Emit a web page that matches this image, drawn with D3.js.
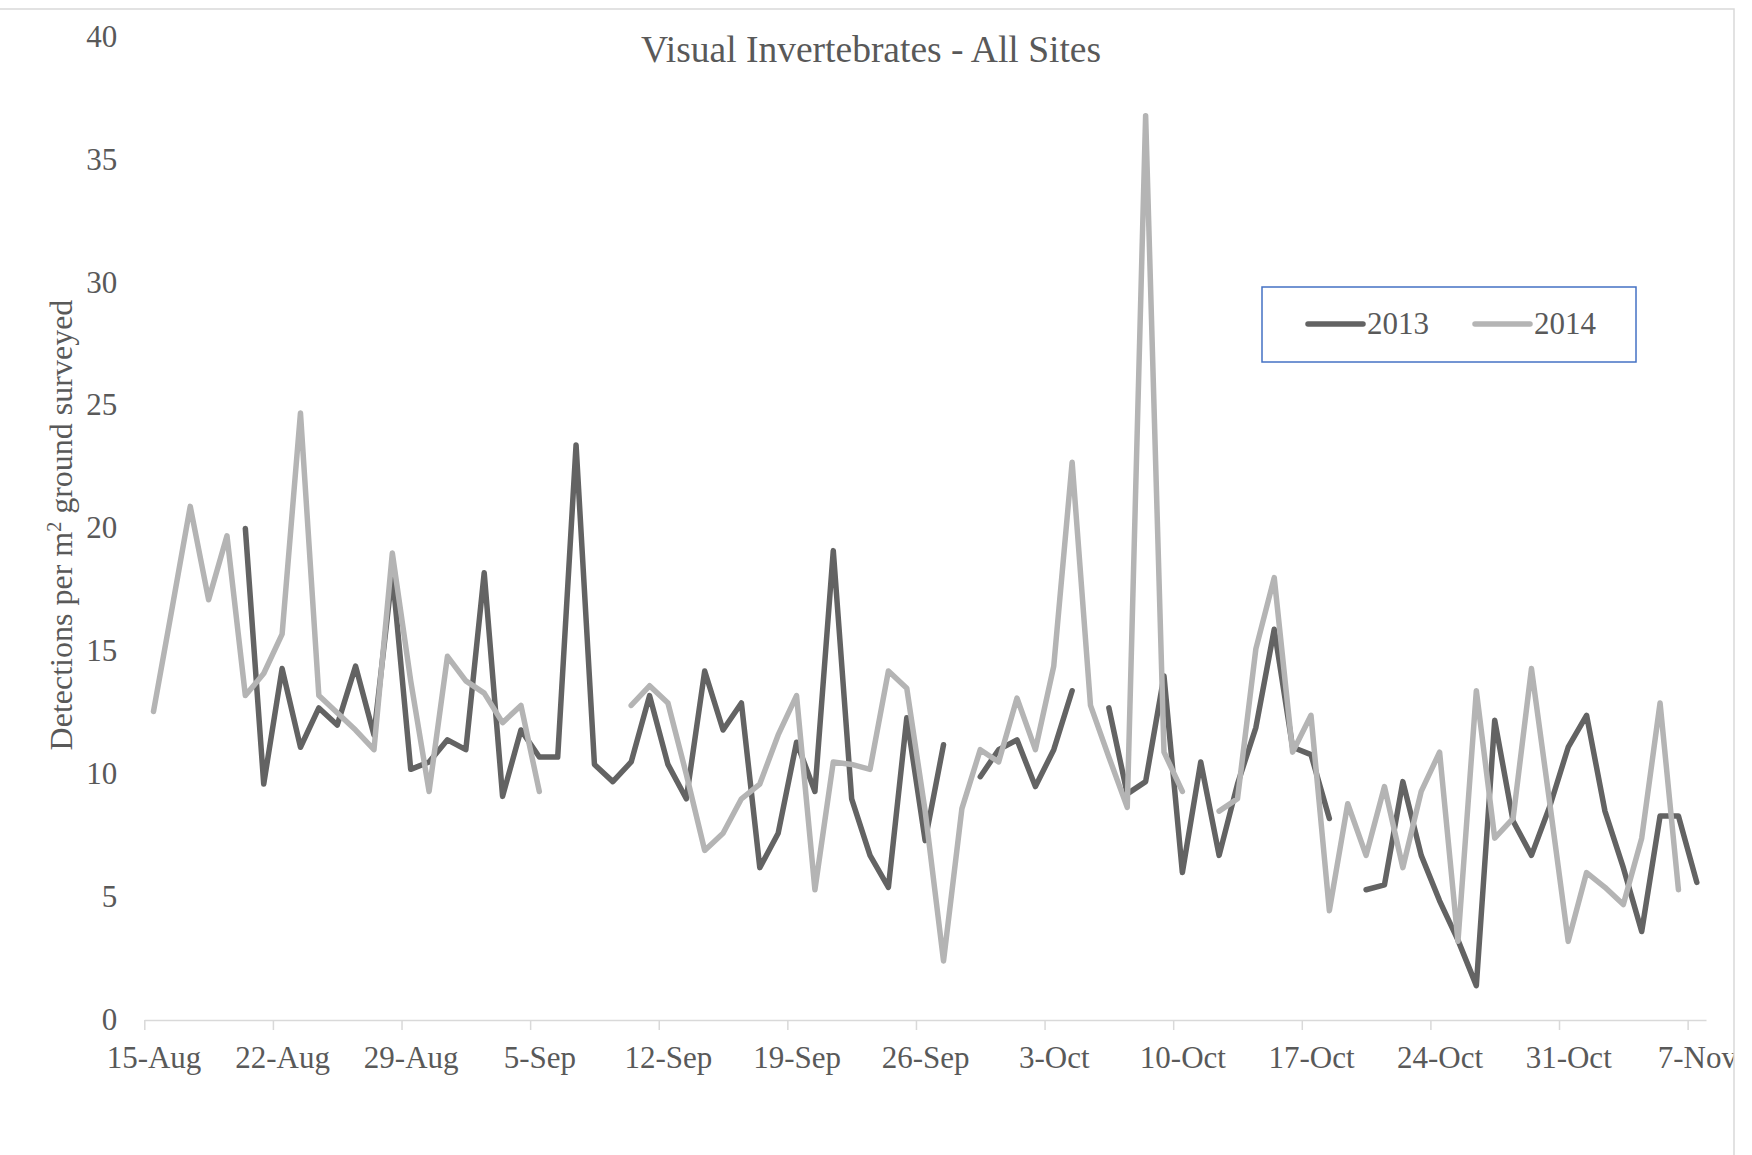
<!DOCTYPE html>
<html>
<head>
<meta charset="utf-8">
<script src="https://cdn.jsdelivr.net/npm/d3@7"></script>
<style>
  html, body { margin: 0; padding: 0; background: #fff; }
  svg text { font-family: "Liberation Serif", "Times New Roman", serif; fill: #595959; }
</style>
</head>
<body>
<div id="chart"></div>
<script>
// ── data (one value per day, null = no survey)
const firstDay = '2014-08-15';
const lastDay  = '2014-11-07';

const tickDates  = ['2014-08-15', '2014-08-22', '2014-08-29', '2014-09-05', '2014-09-12', '2014-09-19',
                    '2014-09-26', '2014-10-03', '2014-10-10', '2014-10-17', '2014-10-24', '2014-10-31', '2014-11-07'];
const tickLabels = ['15-Aug', '22-Aug', '29-Aug', '5-Sep', '12-Sep', '19-Sep',
                    '26-Sep', '3-Oct', '10-Oct', '17-Oct', '24-Oct', '31-Oct', '7-Nov'];
const yTicks = [0, 5, 10, 15, 20, 25, 30, 35, 40];

const seriesNames = ['2013', '2014'];

const values2013 = [
  null, null, null, null, null, 20.0, 9.6, 14.3, 11.1, 12.7,
  12.0, 14.4, 11.6, 18.2, 10.2, 10.5, 11.4, 11.0, 18.2, 9.1,
  11.8, 10.7, 10.7, 23.4, 10.4, 9.7, 10.5, 13.2, 10.4, 9.0,
  14.2, 11.8, 12.9, 6.2, 7.6, 11.3, 9.3, 19.1, 9.0, 6.7,
  5.4, 12.3, 7.3, 11.2, null, 9.9, 11.0, 11.4, 9.5, 11.0,
  13.4, null, 12.7, 9.2, 9.7, 14.0, 6.0, 10.5, 6.7, 9.6,
  11.9, 15.9, 11.1, 10.8, 8.2, null, 5.3, 5.5, 9.7, 6.7,
  4.85, 3.25, 1.4, 12.2, 8.1, 6.7, 8.7, 11.1, 12.4, 8.5,
  6.2, 3.6, 8.3, 8.3, 5.6
];

const values2014 = [
  12.55, 16.7, 20.9, 17.1, 19.7, 13.2, 14.1, 15.7, 24.7, 13.2,
  12.5, 11.8, 11.0, 19.0, 13.8, 9.3, 14.8, 13.8, 13.3, 12.1,
  12.8, 9.3, null, null, null, null, 12.8, 13.6, 12.9, 10.0,
  6.9, 7.6, 9.0, 9.6, 11.6, 13.2, 5.3, 10.5, 10.4, 10.2,
  14.2, 13.5, 8.5, 2.4, 8.6, 11.0, 10.5, 13.1, 11.0, 14.4,
  22.7, 12.8, 10.7, 8.65, 36.8, 10.9, 9.3, null, 8.5, 9.0,
  15.1, 18.0, 10.9, 12.4, 4.45, 8.8, 6.7, 9.5, 6.2, 9.3,
  10.9, 3.2, 13.4, 7.4, 8.2, 14.3, 8.8, 3.2, 6.0, 5.4,
  4.7, 7.4, 12.9, 5.3, null
];

const seriesColors = ['#636363', '#b4b4b4'];

// ── layout
const W = 1752, H = 1155;
const plot = { left: 144.3, right: 1706, top: 37, bottom: 1020 };

const parseDay = d3.timeParse('%Y-%m-%d');
const days = d3.timeDay.range(parseDay(firstDay), d3.timeDay.offset(parseDay(lastDay), 1));

const xScale = d3.scaleTime()
  .domain([parseDay(firstDay), d3.timeDay.offset(parseDay(lastDay), 1)])
  .range([plot.left, plot.right]);

const yScale = d3.scaleLinear()
  .domain([0, 40])
  .range([plot.bottom, plot.top]);

// points sit in the middle of each day's slot
const xMid = d => xScale(d3.timeHour.offset(d, 12));
const halfDay = xMid(days[0]) - xScale(days[0]);

const svg = d3.select('#chart')
  .append('svg')
    .attr('width', W)
    .attr('height', H);

svg.append('defs').append('clipPath')
    .attr('id', 'frame-clip')
  .append('rect')
    .attr('x', 0).attr('y', 9)
    .attr('width', 1734).attr('height', H);

const root = svg.append('g').attr('clip-path', 'url(#frame-clip)');

// title
root.append('text')
  .attr('x', 871)
  .attr('y', 62)
  .attr('text-anchor', 'middle')
  .attr('font-size', '37.5px')
  .text('Visual Invertebrates - All Sites');

// Y axis (labels only)
root.append('g')
  .attr('class', 'axis axis--y')
  .attr('transform', `translate(${plot.left},0)`)
  .call(d3.axisLeft(yScale).tickValues(yTicks).tickSize(0).tickPadding(27))
  .call(g => g.select('.domain').remove())
  .call(g => g.selectAll('text')
    .attr('font-size', '31px')
    .attr('font-family', '"Liberation Serif", "Times New Roman", serif')
    .attr('fill', '#595959')
    .attr('dy', '0.3em'));

root.append('text')
  .attr('transform', `translate(71.5, 525) rotate(-90)`)
  .attr('text-anchor', 'middle')
  .attr('font-size', '32px')
  .text('Detections per m')
  .append('tspan')
    .attr('baseline-shift', 'super')
    .attr('font-size', '20px')
    .text('2')
  .select(function () { return this.parentNode; })
  .append('tspan')
    .text(' ground surveyed');

// X axis
root.append('g')
  .attr('class', 'axis axis--x')
  .attr('transform', `translate(0,${plot.bottom})`)
  .call(d3.axisBottom(xScale)
    .tickValues(tickDates.map(parseDay))
    .tickSize(10)
    .tickSizeOuter(0)
    .tickFormat((d, i) => tickLabels[i]))
  .call(g => g.select('.domain').attr('stroke', '#d9d9d9').attr('stroke-width', 1.5))
  .call(g => g.selectAll('.tick line').attr('stroke', '#d9d9d9').attr('stroke-width', 1.5))
  .call(g => g.selectAll('.tick text')
    .attr('x', halfDay)
    .attr('y', 26)
    .attr('dy', '0.71em')
    .attr('font-size', '31px')
    .attr('font-family', '"Liberation Serif", "Times New Roman", serif')
    .attr('fill', '#595959'));

// lines
const line = d3.line()
  .defined(d => d.v != null)
  .x(d => xMid(d.day))
  .y(d => yScale(d.v));

[values2013, values2014].forEach((vals, i) => {
  root.append('path')
    .datum(days.map((day, j) => ({ day, v: vals[j] })))
    .attr('class', 'series')
    .attr('fill', 'none')
    .attr('stroke', seriesColors[i])
    .attr('stroke-width', 5.5)
    .attr('stroke-linejoin', 'round')
    .attr('stroke-linecap', 'round')
    .attr('d', line);
});

// legend
const legend = root.append('g').attr('class', 'legend');
legend.append('rect')
  .attr('x', 1262).attr('y', 287)
  .attr('width', 374).attr('height', 75)
  .attr('fill', '#fff')
  .attr('stroke', '#4472c4')
  .attr('stroke-width', 1.5);

const legendX = [1308, 1475];
seriesNames.forEach((name, i) => {
  const row = legend.append('g').attr('transform', `translate(${legendX[i]}, 324)`);
  row.append('line')
    .attr('x1', 0).attr('x2', 55)
    .attr('stroke', seriesColors[i])
    .attr('stroke-width', 5.5)
    .attr('stroke-linecap', 'round');
  row.append('text')
    .attr('x', 59)
    .attr('y', 10)
    .attr('font-size', '31px')
    .text(name);
});

// chart frame
svg.append('rect')
  .attr('x', -1).attr('y', 9)
  .attr('width', 1735).attr('height', H + 10)
  .attr('fill', 'none')
  .attr('stroke', '#d9d9d9')
  .attr('stroke-width', 1.5);
</script>
</body>
</html>
